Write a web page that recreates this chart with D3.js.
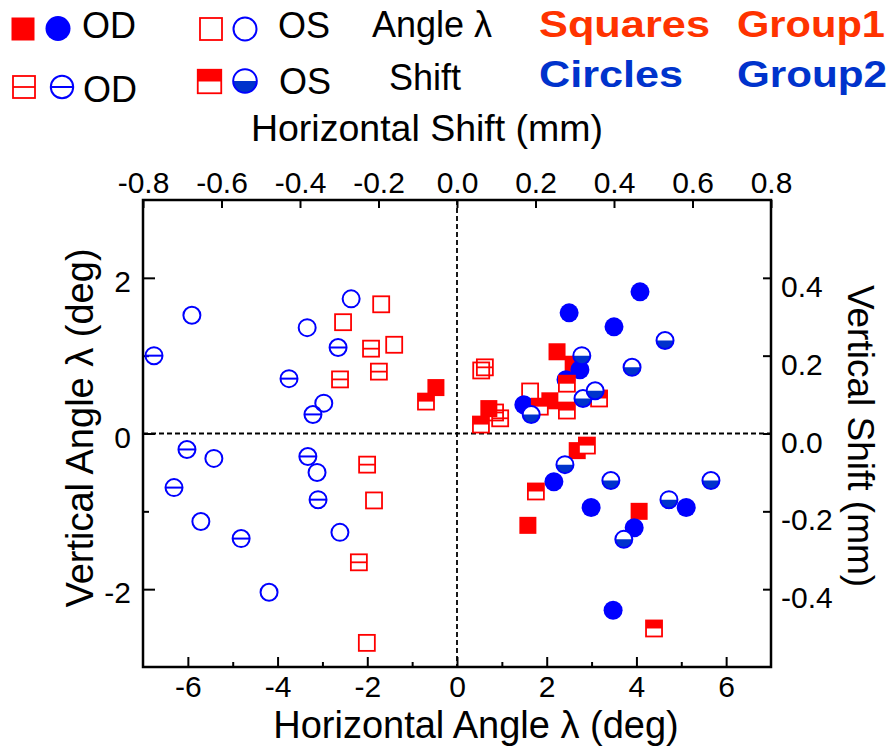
<!DOCTYPE html>
<html><head><meta charset="utf-8">
<script src="https://cdn.jsdelivr.net/npm/d3@7"></script>
<style>body{margin:0;background:#fff} svg{display:block}</style>
</head><body>
<script>
// ---- tick values ----
const xTicks = [-6, -4, -2, 0, 2, 4, 6];
const xMinorTicks = [-5, -3, -1, 1, 3, 5];
const yTicks = [-2, 0, 2];
const yMinorTicks = [-1, 1];
const xShiftTicks = [-0.8, -0.6, -0.4, -0.2, 0.0, 0.2, 0.4, 0.6, 0.8];
const yShiftTicks = [-0.4, -0.2, 0.0, 0.2, 0.4];

// ---- Group1 (squares) ----
// OD angle (deg): filled red squares
const sqODAngle = [[-0.47,0.59],[2.23,1.05],[2.59,0.89],[2.07,0.42],[0.71,0.32],[2.68,-0.22],[4.06,-1.00],[1.58,-1.18]];
// OS angle (deg): open red squares
const sqOSAngle = [[-1.69,1.66],[-2.54,1.43],[-1.40,1.14],[-1.85,-0.86],[-2.01,-2.69],[0.54,0.81],[1.63,0.54]];
// OD shift (mm): squares with middle line
const sqODShift = [[-0.219,0.218],[-0.199,0.159],[-0.298,0.139],[-0.229,-0.080],[-0.250,-0.331],[0.071,0.170],[0.097,0.054],[0.110,0.039]];
// OS shift (mm): top-half filled squares
const sqOSShift = [[-0.079,0.082],[0.280,0.128],[0.211,0.069],[0.280,0.059],[0.362,0.090],[0.061,0.023],[0.331,-0.031],[0.201,-0.149],[0.502,-0.501]];

// ---- Group2 (circles) ----
// OD angle (deg): filled blue circles
const ciODAngle = [[4.08,1.82],[2.50,1.55],[3.50,1.37],[2.74,0.82],[2.43,0.69],[1.49,0.37],[2.16,-0.62],[2.99,-0.95],[5.11,-0.95],[3.95,-1.21],[3.48,-2.27]];
// OS angle (deg): open blue circles
const ciOSAngle = [[-5.91,1.52],[-2.36,1.73],[-3.34,1.36],[-2.97,0.39],[-5.42,-0.32],[-5.71,-1.13],[-3.12,-0.50],[-2.61,-1.27],[-4.19,-2.04]];
// OD shift (mm): circles with middle line
const ciODShift = [[-0.772,0.200],[-0.303,0.221],[-0.428,0.141],[-0.367,0.049],[-0.688,-0.041],[-0.721,-0.139],[-0.550,-0.270],[-0.380,-0.059],[-0.354,-0.170]];
// OS shift (mm): bottom-half filled circles
const ciOSShift = [[0.530,0.239],[0.318,0.200],[0.446,0.170],[0.189,0.049],[0.321,0.090],[0.352,0.110],[0.275,-0.080],[0.392,-0.121],[0.647,-0.121],[0.540,-0.170],[0.425,-0.272]];

const RED = "#ff0000", BLUE = "#0000ff", DBLUE = "#0033cc", ORANGE = "#ff3300";
const FONT = "'Liberation Sans', Arial, Helvetica, sans-serif";

const W = 893, H = 746;
const L = 143, R = 771, T = 200, B = 667;

const svg = d3.select("body").append("svg").attr("width", W).attr("height", H)
  .style("font-family", FONT);

const x = d3.scaleLinear().domain([-7, 7]).range([L, R]);
const xs = d3.scaleLinear().domain([-0.8, 0.8]).range([L, R]);
const y = d3.scaleLinear().domain([-3, 3]).range([B, T]);
const ys = d3.scaleLinear().domain([-0.6, 0.6]).range([B, T]);

const fmtInt = d => d3.format("d")(d).replace("\u2212", "-");
const fmt1 = d => d3.format(".1f")(d).replace("\u2212", "-");

// ---- marker drawers ----
function filledSquare(g, s) {
  g.append("rect").attr("x", -s/2).attr("y", -s/2).attr("width", s).attr("height", s).attr("fill", RED);
}
function openSquare(g, s) {
  g.append("rect").attr("x", -s/2).attr("y", -s/2).attr("width", s).attr("height", s)
    .attr("fill", "none").attr("stroke", RED).attr("stroke-width", 1.8);
}
function lineSquare(g, s) {
  openSquare(g, s);
  g.append("line").attr("x1", -s/2).attr("x2", s/2).attr("y1", 0).attr("y2", 0)
    .attr("stroke", RED).attr("stroke-width", 1.8);
}
function halfSquare(g, s) {
  g.append("rect").attr("x", -s/2).attr("y", -s/2).attr("width", s).attr("height", s).attr("fill", "#fff");
  g.append("rect").attr("x", -s/2).attr("y", -s/2).attr("width", s).attr("height", s/2).attr("fill", RED);
  g.append("rect").attr("x", -s/2).attr("y", -s/2).attr("width", s).attr("height", s)
    .attr("fill", "none").attr("stroke", RED).attr("stroke-width", 1.8);
}
function filledCircle(g, r) {
  g.append("circle").attr("r", r).attr("fill", BLUE);
}
function openCircle(g, r) {
  g.append("circle").attr("r", r - 1).attr("fill", "none").attr("stroke", BLUE).attr("stroke-width", 2);
}
function lineCircle(g, r) {
  openCircle(g, r);
  g.append("line").attr("x1", -(r - 1)).attr("x2", r - 1).attr("y1", 0).attr("y2", 0)
    .attr("stroke", BLUE).attr("stroke-width", 2);
}
function halfCircle(g, r) {
  const rr = r - 1;
  g.append("circle").attr("r", rr).attr("fill", "#fff");
  g.append("path").attr("d", `M${-rr},0 A${rr},${rr} 0 0 0 ${rr},0 Z`).attr("fill", DBLUE);
  g.append("circle").attr("r", rr).attr("fill", "none").attr("stroke", BLUE).attr("stroke-width", 2);
}

// ---- frame & axes ----
const axes = svg.append("g");
function styleAxis(g) {
  g.select(".domain").remove();
  g.selectAll(".tick line").attr("stroke", "#000").attr("stroke-width", 2);
  g.selectAll(".tick text").attr("fill", "#000").style("font-family", FONT).style("font-size", "30px");
}
// bottom
axes.append("g").attr("transform", `translate(0,${B})`)
  .call(d3.axisBottom(x).tickValues(xTicks).tickSize(-10).tickFormat(fmtInt))
  .call(styleAxis)
  .call(g => g.selectAll(".tick text").attr("y", 30).attr("dy", null));
axes.append("g").attr("transform", `translate(0,${B})`)
  .call(d3.axisBottom(x).tickValues(xMinorTicks).tickSize(-5).tickFormat(""))
  .call(styleAxis);
// top
axes.append("g").attr("transform", `translate(0,${T})`)
  .call(d3.axisTop(xs).tickValues(xShiftTicks).tickSize(-8).tickFormat(fmt1))
  .call(styleAxis)
  .call(g => g.selectAll(".tick text").attr("y", -7).attr("dy", null));
// left
axes.append("g").attr("transform", `translate(${L},0)`)
  .call(d3.axisLeft(y).tickValues(yTicks).tickSize(-12).tickFormat(fmtInt))
  .call(styleAxis)
  .call(g => g.selectAll(".tick text").attr("x", -12).attr("dy", "0.45em"));
axes.append("g").attr("transform", `translate(${L},0)`)
  .call(d3.axisLeft(y).tickValues(yMinorTicks).tickSize(-6).tickFormat(""))
  .call(styleAxis);
// right
axes.append("g").attr("transform", `translate(${R},0)`)
  .call(d3.axisRight(ys).tickValues(yShiftTicks).tickSize(-8).tickFormat(fmt1))
  .call(styleAxis)
  .call(g => g.selectAll(".tick text").attr("x", 10).attr("dy", "0.62em"));

// zero dashed lines
axes.append("line").attr("x1", x(0)).attr("x2", x(0)).attr("y1", T).attr("y2", B)
  .attr("stroke", "#000").attr("stroke-width", 1.8).attr("stroke-dasharray", "5,3");
axes.append("line").attr("x1", L).attr("x2", R).attr("y1", y(0)).attr("y2", y(0))
  .attr("stroke", "#000").attr("stroke-width", 1.8).attr("stroke-dasharray", "5,3");

// frame
axes.append("rect").attr("x", L).attr("y", T).attr("width", R - L).attr("height", B - T)
  .attr("fill", "none").attr("stroke", "#000").attr("stroke-width", 2.5);

// ---- data markers ----
const plot = svg.append("g");
function drawSeries(data, xsc, ysc, fn, size) {
  plot.append("g").selectAll("g").data(data).join("g")
    .attr("transform", d => `translate(${xsc(d[0])},${ysc(d[1])})`)
    .each(function() { fn(d3.select(this), size); });
}
drawSeries(sqOSAngle, x, y, openSquare, 16);
drawSeries(sqODShift, xs, ys, lineSquare, 16);
drawSeries(sqODAngle, x, y, filledSquare, 17);
drawSeries(ciODAngle, x, y, filledCircle, 9.5);
drawSeries(sqOSShift, xs, ys, halfSquare, 16);
drawSeries(ciOSShift, xs, ys, halfCircle, 9.5);
drawSeries(ciOSAngle, x, y, openCircle, 9.5);
drawSeries(ciODShift, xs, ys, lineCircle, 9.5);

// ---- axis titles ----
svg.append("text").attr("x", 427).attr("y", 141).attr("text-anchor", "middle")
  .style("font-size", "37.5px").text("Horizontal Shift (mm)");
svg.append("text").attr("x", 476).attr("y", 738).attr("text-anchor", "middle")
  .style("font-size", "38px").text("Horizontal Angle λ (deg)");
svg.append("text").attr("transform", "translate(93,428) rotate(-90)").attr("text-anchor", "middle")
  .style("font-size", "38px").text("Vertical Angle λ (deg)");
svg.append("text").attr("transform", "translate(848,436) rotate(90)").attr("text-anchor", "middle")
  .style("font-size", "37px").text("Vertical Shift (mm)");

// ---- legend ----
const leg = svg.append("g");
function legMarker(fn, cx, cy, s) {
  const g = leg.append("g").attr("transform", `translate(${cx},${cy})`);
  fn(g, s);
}
legMarker(filledSquare, 23, 29, 23);
legMarker(filledCircle, 58, 28.5, 12.5);
legMarker(openSquare, 211, 29, 22);
legMarker(openCircle, 245, 29, 12.5);
legMarker(lineSquare, 24, 87, 22);
legMarker(lineCircle, 62, 87, 12.2);
legMarker(halfSquare, 209.5, 81.5, 23.5);
legMarker(halfCircle, 245, 81, 12.8);

function legText(t, xx, yy, opts = {}) {
  const el = leg.append("text").attr("x", xx).attr("y", yy).style("font-size", (opts.size || 36) + "px")
    .attr("fill", opts.color || "#000").text(t);
  if (opts.bold) el.style("font-weight", "bold");
  if (opts.len) el.attr("textLength", opts.len).attr("lengthAdjust", "spacingAndGlyphs");
  return el;
}
legText("OD", 82, 38);
legText("OS", 278, 38);
legText("Angle λ", 372, 37);
legText("OD", 83, 102);
legText("OS", 279, 94);
legText("Shift", 389, 90);
legText("Squares", 539, 37, {bold: true, color: ORANGE, len: 171});
legText("Group1", 737, 37, {bold: true, color: ORANGE, len: 148});
legText("Circles", 539, 87, {bold: true, color: DBLUE, len: 144});
legText("Group2", 737, 87, {bold: true, color: DBLUE, len: 150});
</script>
</body></html>
